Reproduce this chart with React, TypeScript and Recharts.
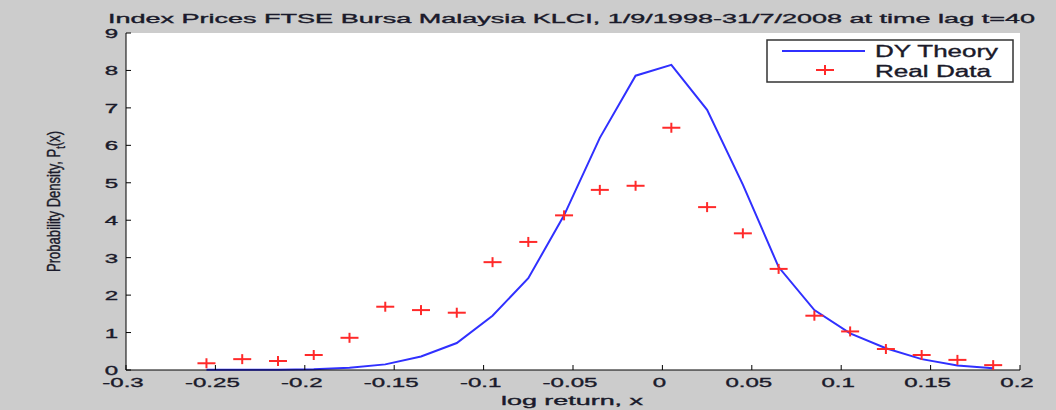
import { CartesianGrid, ComposedChart, Line, Scatter, XAxis, YAxis } from "recharts";

// log return bins (x) shared by both series
const logReturn = [
  -0.255, -0.235, -0.215, -0.195, -0.175, -0.155, -0.135, -0.115, -0.095, -0.075, -0.055, -0.035,
  -0.015, 0.005, 0.025, 0.045, 0.065, 0.085, 0.105, 0.125, 0.145, 0.165, 0.185,
];
const dyTheory = [
  0.01, 0.01, 0.01, 0.02, 0.06, 0.15, 0.36, 0.72, 1.45, 2.45, 4.13, 6.2,
  7.86, 8.15, 6.95, 4.95, 2.75, 1.6, 0.98, 0.58, 0.29, 0.12, 0.05,
];
const realData = [
  0.18, 0.29, 0.24, 0.4, 0.86, 1.69, 1.6, 1.53, 2.88, 3.42, 4.13, 4.81,
  4.92, 6.47, 4.35, 3.65, 2.7, 1.45, 1.03, 0.56, 0.4, 0.27, 0.13,
];
const xTicks = [-0.3, -0.25, -0.2, -0.15, -0.1, -0.05, 0, 0.05, 0.1, 0.15, 0.2];
const yTicks = [0, 1, 2, 3, 4, 5, 6, 7, 8, 9];

const theoryRows = logReturn.map((x, i) => ({ x, y: dyTheory[i] }));
const realRows = logReturn.map((x, i) => ({ x, y: realData[i] }));

const W = 1056;
const H = 410;
const TOP = 33;
const BOTTOM = 370;
const LEFT = 126;
const RIGHT = 1020;
const BLUE = "#3030ff";
const RED = "#ff2a2a";
const FONT = "'Liberation Sans', Arial, sans-serif";
const INK = "#1a1a2a";
// the reference text is soft and heavy, a thin outline mimics that
const heavy = { stroke: INK, strokeWidth: 0.35 };

function BottomTick({ x, payload }: any) {
  return (
    <g>
      <line x1={x} x2={x} y1={BOTTOM} y2={BOTTOM - 5} stroke="#000" />
      <text
        transform={`translate(${x - 3},387) scale(1.85,1)`}
        textAnchor="middle"
        fontSize={13}
        fontFamily={FONT}
        fill={INK}
        {...heavy}
      >
        {payload.value}
      </text>
    </g>
  );
}

function TopTick({ x }: any) {
  return <line x1={x} x2={x} y1={TOP} y2={TOP + 5} stroke="#000" />;
}

function LeftTick({ y, payload }: any) {
  return (
    <g>
      <line x1={LEFT} x2={LEFT + 5} y1={y} y2={y} stroke="#000" />
      <text
        transform={`translate(118,${y + 5}) scale(1.85,1)`}
        textAnchor="end"
        fontSize={13}
        fontFamily={FONT}
        fill={INK}
        {...heavy}
      >
        {payload.value}
      </text>
    </g>
  );
}

function RightTick({ y }: any) {
  return <line x1={RIGHT} x2={RIGHT - 5} y1={y} y2={y} stroke="#000" />;
}

function Plus({ cx, cy }: any) {
  if (cx == null || cy == null) return <g />;
  return (
    <g stroke={RED} strokeWidth={2}>
      <line x1={cx - 9} x2={cx + 9} y1={cy} y2={cy} />
      <line x1={cx} x2={cx} y1={cy - 5} y2={cy + 5} />
    </g>
  );
}

export default function App() {
  return (
    <div style={{ position: "absolute", left: 0, top: 0, width: W, height: H, background: "#cccccc" }}>
      <ComposedChart
        width={W}
        height={H}
        margin={{ top: TOP, right: W - RIGHT, bottom: 0, left: 0 }}
      >
        <CartesianGrid fill="#ffffff" stroke="none" horizontal={false} vertical={false} />
        <XAxis
          dataKey="x"
          type="number"
          domain={[-0.3, 0.2]}
          ticks={xTicks}
          interval={0}
          height={H - BOTTOM}
          tickSize={0}
          tickMargin={0}
          tickLine={false}
          axisLine={{ stroke: "#000" }}
          tick={<BottomTick />}
          allowDataOverflow
        />
        <XAxis
          xAxisId="top"
          orientation="top"
          type="number"
          domain={[-0.3, 0.2]}
          ticks={xTicks}
          interval={0}
          height={0}
          tickSize={0}
          tickLine={false}
          axisLine={{ stroke: "#000" }}
          tick={<TopTick />}
        />
        <YAxis
          type="number"
          domain={[0, 9]}
          ticks={yTicks}
          interval={0}
          width={LEFT}
          tickSize={0}
          tickMargin={0}
          tickLine={false}
          axisLine={{ stroke: "#000" }}
          tick={<LeftTick />}
        />
        <YAxis
          yAxisId="right"
          orientation="right"
          type="number"
          domain={[0, 9]}
          ticks={yTicks}
          interval={0}
          width={0}
          tickSize={0}
          tickLine={false}
          axisLine={{ stroke: "#000" }}
          tick={<RightTick />}
        />
        <Line
          data={theoryRows}
          dataKey="y"
          type="linear"
          stroke={BLUE}
          strokeWidth={2}
          dot={false}
          isAnimationActive={false}
        />
        <Scatter data={realRows} dataKey="y" shape={<Plus />} isAnimationActive={false} />
      </ComposedChart>

      <svg
        width={W}
        height={H}
        style={{ position: "absolute", left: 0, top: 0, pointerEvents: "none" }}
      >
        <text
          x={108}
          y={23}
          fontSize={13}
          fontFamily={FONT}
          fill={INK}
          textLength={927}
          lengthAdjust="spacingAndGlyphs"
          {...heavy}
        >
          Index Prices FTSE Bursa Malaysia KLCI, 1/9/1998-31/7/2008 at time lag t=40
        </text>
        <text
          x={501}
          y={405}
          fontSize={13}
          fontFamily={FONT}
          fill={INK}
          textLength={142}
          lengthAdjust="spacingAndGlyphs"
          {...heavy}
        >
          log return, x
        </text>
        <text
          transform="translate(60,202) scale(1.6,1) rotate(-90)"
          x={-70}
          fontSize={12}
          fontFamily={FONT}
          fill={INK}
          textLength={141}
          lengthAdjust="spacingAndGlyphs"
          stroke={INK}
          strokeWidth={0.25}
        >
          Probability Density, P
          <tspan fontSize={8.5} dy={3}>t</tspan>
          <tspan dy={-3}>(x)</tspan>
        </text>

        <rect x={767} y={40} width={246} height={42} fill="#fff" stroke="#333" strokeWidth={1.5} />
        <line x1={782} x2={865} y1={51} y2={51} stroke={BLUE} strokeWidth={2} />
        <Plus cx={825} cy={70} />
        <text
          x={875}
          y={57}
          fontSize={16}
          fontFamily={FONT}
          fill={INK}
          textLength={123}
          lengthAdjust="spacingAndGlyphs"
          {...heavy}
        >
          DY Theory
        </text>
        <text
          x={875}
          y={77}
          fontSize={16}
          fontFamily={FONT}
          fill={INK}
          textLength={116}
          lengthAdjust="spacingAndGlyphs"
          {...heavy}
        >
          Real Data
        </text>
      </svg>
    </div>
  );
}
